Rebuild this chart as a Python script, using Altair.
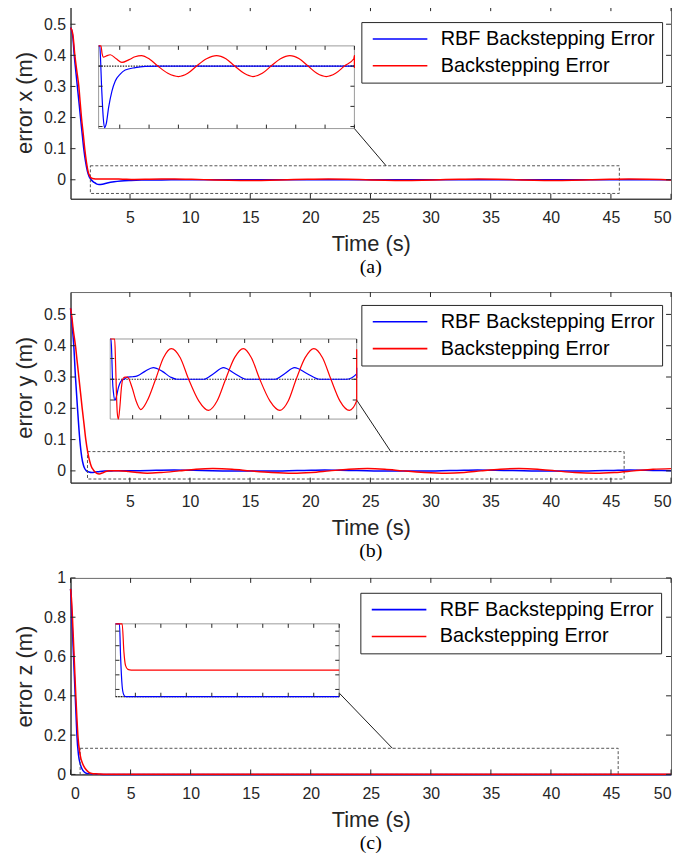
import altair as alt
import pandas as pd

SERIES = ["RBF Backstepping Error", "Backstepping Error"]
COLORS = ["#0000ff", "#ff0000"]
FONT = "Liberation Sans"
INK = "#262626"

# ---------------- (a) error x ----------------
ta_blue = [0.05, 0.15, 0.25, 0.36, 0.5, 0.63, 0.75, 0.88, 1.0, 1.15, 1.3, 1.45, 1.6, 1.75, 1.9,
           2.05, 2.2, 2.42, 2.7, 3.1, 3.67, 4.24, 5.08, 5.93, 7.63, 9.33, 12.0, 20.0, 30.0, 40.0, 50.0]
ea_blue = [0.489, 0.48, 0.455, 0.40, 0.345, 0.295, 0.25, 0.20, 0.155, 0.10, 0.058, 0.028, 0.010, 0.001, -0.005,
           -0.0095, -0.013, -0.0153, -0.0143, -0.0103, -0.0062, -0.0037, -0.002, -0.001, -0.0004, -0.0001, 0.0, 0.0, 0.0, 0.0, 0.0]
ta_red = [0.05, 0.15, 0.25, 0.41, 0.57, 0.74, 0.85, 0.96, 1.1, 1.23, 1.38, 1.52, 1.65, 1.8, 2.0, 2.22, 2.7, 3.39,
          4.4, 5.37, 6.6, 7.6, 8.7, 10.1, 11.5, 13.2, 15.0, 16.6, 18.1, 19.8, 21.5, 23.1, 24.6, 26.2, 27.7, 29.3,
          30.8, 32.4, 34.0, 35.6, 37.1, 38.6, 40.2, 41.8, 43.3, 44.9, 46.5, 48.1, 49.6, 50.0]
ea_red = [0.489, 0.482, 0.465, 0.40, 0.35, 0.30, 0.25, 0.20, 0.15, 0.10, 0.055, 0.025, 0.012, 0.0055, 0.003, 0.0022, 0.0025, 0.0028,
          0.0018, 0.0009, 0.0016, 0.0023, 0.0026, 0.0017, 0.0, -0.0018, -0.0026, -0.0018, 0.0, 0.0018, 0.0026, 0.0018, 0.0, -0.0018, -0.0026, -0.0018,
          0.0, 0.0018, 0.0026, 0.0018, 0.0, -0.0018, -0.0026, -0.0018, 0.0, 0.0018, 0.0026, 0.0018, 0.0, -0.0005]

# ---------------- (b) error y ----------------
tb_blue = [0.07, 0.15, 0.25, 0.34, 0.48, 0.65, 0.84, 1.0, 1.15, 1.27, 1.4, 1.6, 1.85, 2.1, 2.5, 2.9, 3.48, 4.07, 5.0, 5.84,
           7.2, 8.68, 10.3, 11.8, 12.9, 17.7, 19.5, 21.2, 23.2, 25.3, 30.4, 32.2, 33.9, 36.1, 38.4, 43.1, 45.0, 46.6, 48.5, 50.0]
eb_blue = [0.519, 0.49, 0.445, 0.40, 0.30, 0.20, 0.10, 0.045, 0.017, 0.006, 0.0, -0.0035, -0.0051, -0.0042, -0.0018, -0.0005, 0.0, 0.0005, 0.0006, 0.0008,
           0.0019, 0.0028, 0.0019, 0.0005, 0.0, 0.0, 0.0014, 0.0028, 0.0014, 0.0, 0.0, 0.0014, 0.0028, 0.0014, 0.0, 0.0, 0.0013, 0.0028, 0.0014, 0.0003]
tb_red = [0.07, 0.15, 0.3, 0.48, 0.62, 0.76, 0.9, 1.04, 1.19, 1.34, 1.5, 1.65, 1.8, 1.95, 2.1, 2.25, 2.45, 2.7, 3.0, 3.3,
          3.7, 4.07, 4.9, 5.6, 6.44, 7.6, 9.1, 10.5, 11.9, 13.5, 15.0, 16.8, 18.55, 20.1, 21.6, 23.2, 24.76, 26.2, 27.7, 29.5,
          31.3, 32.8, 34.2, 35.8, 37.35, 38.9, 40.4, 42.0, 43.7, 45.3, 46.9, 48.5, 50.0]
eb_red = [0.519, 0.50, 0.45, 0.40, 0.35, 0.30, 0.25, 0.20, 0.15, 0.10, 0.06, 0.033, 0.014, 0.004, -0.003, -0.008, -0.0096, -0.007, -0.002, 0.0002,
          0.0005, 0.0005, -0.002, -0.0052, -0.0073, -0.0052, 0.0, 0.0052, 0.0074, 0.0052, 0.0, -0.0052, -0.0075, -0.0052, 0.0, 0.0052, 0.0074, 0.0052, 0.0, -0.0052,
          -0.0075, -0.0052, 0.0, 0.0052, 0.0074, 0.0052, 0.0, -0.0052, -0.0075, -0.0052, 0.0, 0.0052, 0.0072]

# ---------------- (c) error z ----------------
tc_blue = [0.0, 0.05, 0.11, 0.18, 0.25, 0.32, 0.39, 0.46, 0.53, 0.66, 0.8, 0.94, 1.15, 1.36, 1.6, 1.88, 2.1, 2.4, 2.7, 3.1, 50.0]
ec_blue = [0.944, 0.90, 0.80, 0.70, 0.60, 0.50, 0.40, 0.30, 0.20, 0.10, 0.055, 0.03, 0.012, 0.005, 0.0028, 0.002, 0.0011, 0.0003, 0.00006, 0.0, 0.0]
tc_red = [0.0, 0.07, 0.16, 0.23, 0.30, 0.37, 0.44, 0.52, 0.61, 0.8, 1.0, 1.22, 1.5, 1.77, 2.1, 2.41, 2.75, 3.06, 3.53, 4.2, 50.0]
ec_red = [0.944, 0.90, 0.80, 0.70, 0.60, 0.50, 0.40, 0.30, 0.20, 0.10, 0.055, 0.03, 0.012, 0.005, 0.003, 0.002, 0.00123, 0.00086, 0.00075, 0.00073, 0.00073]

# axis ticks
x_ticks_ab = [5, 10, 15, 20, 25, 30, 35, 40, 45, 50]
x_ticks_c = [0, 5, 10, 15, 20, 25, 30, 35, 40, 45, 50]
y_ticks_ab = [0, 0.1, 0.2, 0.3, 0.4, 0.5]
y_ticks_c = [0, 0.2, 0.4, 0.6, 0.8, 1]
inset_x_ticks = [5, 10, 15, 20, 25, 30, 35, 40, 45]

PANELS = [
    dict(tag="(a)", ytitle="error x (m)", W=605, H=194, xdom=[0.05, 50], ydom=[-0.061, 0.558],
         xticks=x_ticks_ab, yticks=y_ticks_ab, tb=ta_blue, eb=ea_blue, tr=ta_red, er=ea_red,
         leg=(293, 16), zoom_box=(1.7, 45.7, -0.044, 0.045), conn_t=26.3, cap_off=3,
         ix=(28.3, 286.0), iy=(40.0, 123.3), ixdom=[1.4, 45], iydom=[-0.0155, 0.005],
         iyticks=[-0.015, -0.01, -0.005, 0], conn_from=(286.0, 123.3)),
    dict(tag="(b)", ytitle="error y (m)", W=605, H=192, xdom=[0.07, 50], ydom=[-0.0375, 0.5715],
         xticks=x_ticks_ab, yticks=y_ticks_ab, tb=tb_blue, eb=eb_blue, tr=tb_red, er=eb_red,
         leg=(293, 13), zoom_box=(1.48, 46.1, -0.026, 0.0616), conn_t=26.7, cap_off=3,
         ix=(40.0, 288.3), iy=(47.3, 128.0), ixdom=[1.0, 45], iydom=[-0.0096, 0.0097],
         iyticks=[-0.005, 0, 0.005], conn_from=(288.3, 108.8)),
    dict(tag="(c)", ytitle="error z (m)", W=605, H=198, xdom=[0, 50], ydom=[0, 1],
         xticks=x_ticks_c, yticks=y_ticks_c, tb=tc_blue, eb=ec_blue, tr=tc_red, er=ec_red,
         leg=(292, 15), zoom_box=(0.8, 45.6, 0.0, 0.133), conn_t=26.8, cap_off=3,
         ix=(45.3, 270.7), iy=(46.3, 119.7), ixdom=[1.1, 45], iydom=[0, 0.002],
         iyticks=[0.0002, 0.0006, 0.001, 0.0014, 0.0018], conn_from=(270.7, 116.0)),
]

ONE = pd.DataFrame({"k": [0]})


def line_df(t, e, name):
    return pd.DataFrame({"t": t, "e": e, "series": name})


def rules_x(vals, scale, y1, y2, color=INK, width=1):
    return alt.Chart(pd.DataFrame({"v": vals})).mark_rule(color=color, strokeWidth=width).encode(
        x=alt.X("v:Q", scale=scale, axis=None), y=alt.value(y1), y2=alt.value(y2))


def rules_y(vals, scale, x1, x2, color=INK, width=1):
    return alt.Chart(pd.DataFrame({"v": vals})).mark_rule(color=color, strokeWidth=width).encode(
        y=alt.Y("v:Q", scale=scale, axis=None), x=alt.value(x1), x2=alt.value(x2))


def make_panel(p):
    W, H = p["W"], p["H"]
    xs = alt.Scale(domain=p["xdom"], nice=False, zero=False)
    ys = alt.Scale(domain=p["ydom"], nice=False, zero=False)
    cs = alt.Scale(domain=SERIES, range=COLORS)
    legend = alt.Legend(title=None, orient="none", legendX=p["leg"][0], legendY=p["leg"][1],
                        symbolType="M-5,0H5", symbolSize=121, symbolStrokeWidth=1.6, symbolOffset=22,
                        labelOffset=31, labelFontSize=20, labelFont=FONT, labelColor="black", labelLimit=0,
                        strokeColor=INK, fillColor="white", padding=7, rowPadding=7, cornerRadius=0)
    xaxis = alt.Axis(values=p["xticks"], format="~g", title="Time (s)", ticks=False, grid=False, orient="bottom",
                     labelFlush=True, labelPadding=11, titlePadding=8, domainColor=INK,
                     labelFontSize=16, titleFontSize=22, labelFont=FONT, titleFont=FONT,
                     labelColor=INK, titleColor=INK, titleFontWeight="normal")
    yaxis = alt.Axis(values=p["yticks"], format="~g", title=p["ytitle"], ticks=False, grid=False, orient="left",
                     labelFlush=False, labelPadding=5, titlePadding=7, domainColor=INK,
                     labelFontSize=16, titleFontSize=22, labelFont=FONT, titleFont=FONT,
                     labelColor=INK, titleColor=INK, titleFontWeight="normal")

    blue_df = line_df(p["tb"], p["eb"], SERIES[0])
    red_df = line_df(p["tr"], p["er"], SERIES[1])

    def main_line(df, with_axis):
        return alt.Chart(df).mark_line(strokeWidth=1.5, interpolate="monotone").encode(
            x=alt.X("t:Q", scale=xs, axis=xaxis if with_axis else None),
            y=alt.Y("e:Q", scale=ys, axis=yaxis if with_axis else None),
            color=alt.Color("series:N", scale=cs, legend=legend))

    x0, x1, y0, y1 = p["zoom_box"]
    box = alt.Chart(pd.DataFrame({"x0": [x0], "x1": [x1], "y0": [y0], "y1": [y1]})).mark_rect(
        filled=False, stroke="#555555", strokeWidth=1, strokeDash=[3, 2]).encode(
        x=alt.X("x0:Q", scale=xs, axis=None), x2="x1:Q",
        y=alt.Y("y0:Q", scale=ys, axis=None), y2="y1:Q")

    L = 5
    main_ticks = [
        rules_x(p["xticks"], xs, H, H - L),
        rules_x(p["xticks"], xs, 0, L),
        rules_y(p["yticks"], ys, 0, L),
        rules_y(p["yticks"], ys, W, W - L),
    ]

    # connector from inset to the zoom box (pixel end-point derived from the box top)
    cx = (p["conn_t"] - p["xdom"][0]) / (p["xdom"][1] - p["xdom"][0]) * W
    cy = (p["ydom"][1] - y1) / (p["ydom"][1] - p["ydom"][0]) * H
    conn = alt.Chart(ONE).mark_rule(color="black", strokeWidth=0.9).encode(
        x=alt.value(p["conn_from"][0]), y=alt.value(p["conn_from"][1]),
        x2=alt.value(cx), y2=alt.value(cy))

    # ---- inset ----
    ix0, ix1 = p["ix"]
    iy0, iy1 = p["iy"]
    ixs = alt.Scale(domain=p["ixdom"], range=[ix0, ix1], nice=False, zero=False, clamp=True)
    iys = alt.Scale(domain=p["iydom"], range=[iy1, iy0], nice=False, zero=False, clamp=True)
    frame = alt.Chart(ONE).mark_rect(fill="white", stroke="#9a9a9a", strokeWidth=1).encode(
        x=alt.value(ix0), x2=alt.value(ix1), y=alt.value(iy0), y2=alt.value(iy1))
    zero = alt.Chart(pd.DataFrame({"v": [0.0]})).mark_rule(color="#222222", strokeWidth=1.2, strokeDash=[1.5, 1.2]).encode(
        y=alt.Y("v:Q", scale=iys, axis=None), x=alt.value(ix0), x2=alt.value(ix1))

    def inset_line(df, color):
        return alt.Chart(df).mark_line(color=color, strokeWidth=1.2, interpolate="monotone").encode(
            x=alt.X("t:Q", scale=ixs, axis=None), y=alt.Y("e:Q", scale=iys, axis=None))

    li = 4
    inset_ticks = [
        rules_x(inset_x_ticks, ixs, iy1, iy1 - li),
        rules_x(inset_x_ticks, ixs, iy0, iy0 + li),
        rules_y(p["iyticks"], iys, ix0, ix0 + li),
        rules_y(p["iyticks"], iys, ix1, ix1 - li),
    ]

    layers = [main_line(blue_df, True), box, main_line(red_df, False), conn, *main_ticks,
              frame, zero, inset_line(blue_df, COLORS[0]), inset_line(red_df, COLORS[1]), *inset_ticks]
    return alt.layer(*layers).resolve_scale(x="independent", y="independent").properties(
        width=W, height=H,
        title=alt.TitleParams(text=p["tag"], orient="bottom", font="Liberation Serif", fontSize=20,
                              fontWeight="normal", color="black", offset=p["cap_off"], frame="group",
                              anchor="middle"))


pa, pb, pc = [make_panel(p) for p in PANELS]
top_two = alt.vconcat(pa, pb, spacing=13).resolve_scale(color="independent")
chart = alt.vconcat(top_two, pc, spacing=7).resolve_scale(color="independent").properties(
    padding={"left": 5, "top": -6, "right": 0, "bottom": -2}
).configure_view(stroke="#6a6a6a", strokeWidth=1)

chart.save("out.html", embed_options={"renderer": "svg", "actions": False})
